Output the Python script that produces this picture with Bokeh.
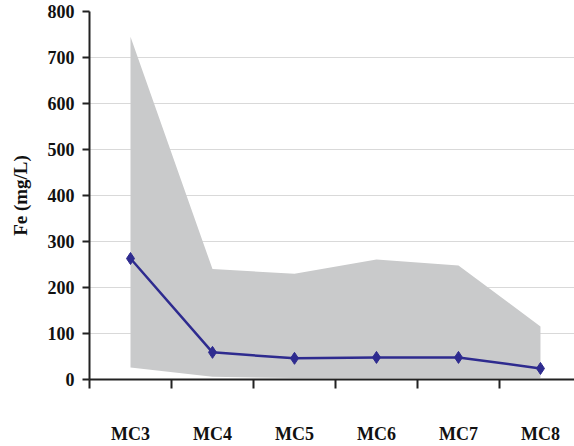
from bokeh.plotting import figure
from bokeh.models import FixedTicker, Range1d
from bokeh.embed import file_html
from bokeh.resources import INLINE

categories = ["MC3", "MC4", "MC5", "MC6", "MC7", "MC8"]
fe_mean = [263, 59, 46, 48, 48, 24]
fe_max = [745, 240, 230, 261, 248, 115]
fe_min = [26, 6, 3, 3, 3, 3]
y_ticks = [0, 100, 200, 300, 400, 500, 600, 700, 800]

x = list(range(len(categories)))

p = figure(width=574, height=446, output_backend="svg", toolbar_location=None,
           x_range=Range1d(-0.5, 5.415), y_range=Range1d(0, 800),
           min_border_left=89, min_border_right=0, min_border_top=11, min_border_bottom=67)
p.outline_line_color = None
p.background_fill_color = "white"
p.border_fill_color = "white"

p.varea(x=x, y1=fe_min, y2=fe_max, fill_color="#c9cacb", fill_alpha=1.0)
p.line(x=x, y=fe_mean, line_color="#2e2b8f", line_width=2.5)
p.scatter(x=x, y=fe_mean, marker="diamond", size=12, fill_color="#2e2b8f", line_color="#2e2b8f")

font = "Liberation Serif"

# x axis
xa = p.xaxis[0]
xa.ticker = FixedTicker(ticks=x, minor_ticks=[-0.5, 0.5, 1.5, 2.5, 3.5, 4.5, 5.5])
xa.major_label_overrides = {i: c for i, c in enumerate(categories)}
xa.major_tick_out = 0
xa.major_tick_in = 0
xa.minor_tick_out = 9
xa.minor_tick_in = 0
xa.minor_tick_line_color = "#222222"
xa.minor_tick_line_width = 2
xa.axis_line_color = "#222222"
xa.axis_line_width = 2
xa.major_label_text_font = font
xa.major_label_text_font_style = "bold"
xa.major_label_text_font_size = "18px"
xa.major_label_text_color = "#111111"
xa.major_label_standoff = 35

# y axis
ya = p.yaxis[0]
ya.ticker = FixedTicker(ticks=y_ticks)
ya.minor_tick_line_color = None
ya.major_tick_out = 7
ya.major_tick_in = 0
ya.major_tick_line_color = "#222222"
ya.major_tick_line_width = 2
ya.axis_line_color = "#222222"
ya.axis_line_width = 2
ya.major_label_text_font = font
ya.major_label_text_font_style = "bold"
ya.major_label_text_font_size = "18px"
ya.major_label_text_color = "#111111"
ya.major_label_standoff = 8
ya.axis_label = "Fe (mg/L)"
ya.axis_label_text_font = font
ya.axis_label_text_font_style = "bold"
ya.axis_label_text_font_size = "19px"
ya.axis_label_text_color = "#111111"
ya.axis_label_standoff = 14

p.xgrid.grid_line_color = None
p.ygrid.ticker = FixedTicker(ticks=y_ticks)
p.ygrid.grid_line_color = "#d9d9d9"
p.ygrid.grid_line_width = 1

open("out.html", "w").write(file_html(p, INLINE))
